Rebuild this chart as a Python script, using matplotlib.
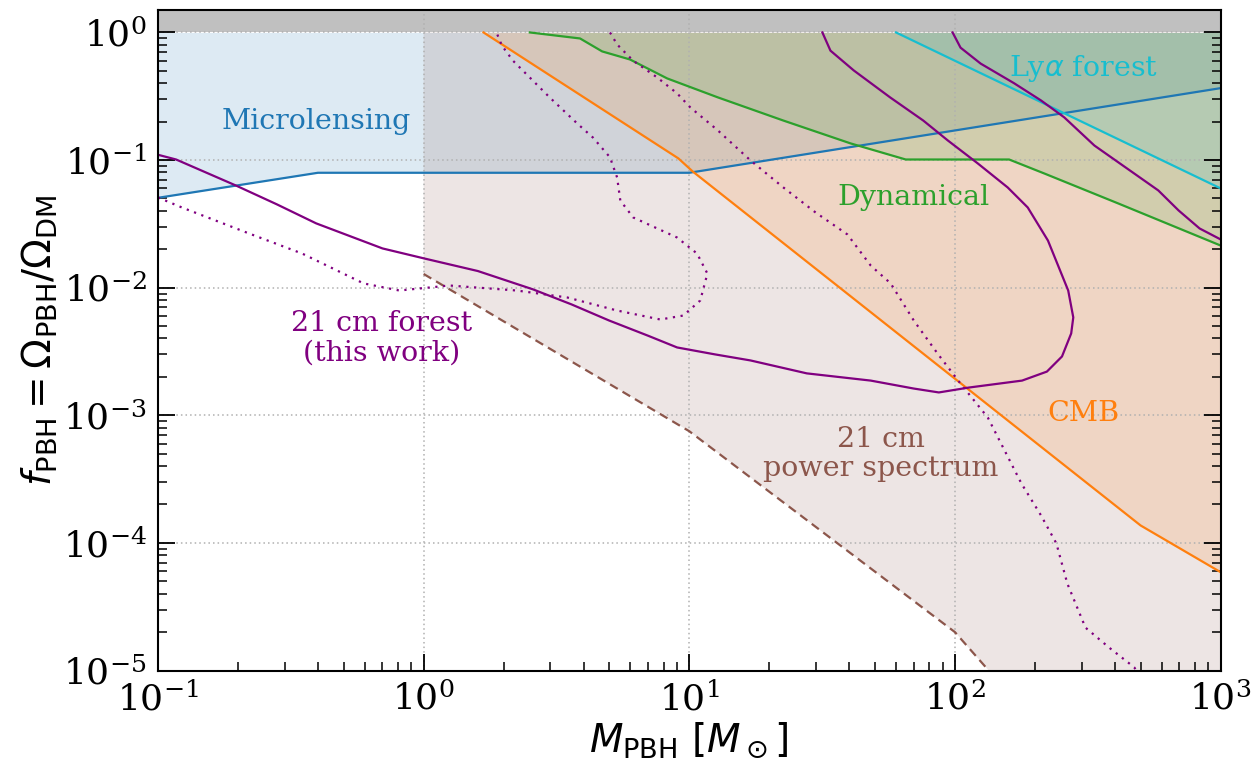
import numpy as np
import matplotlib
matplotlib.use("Agg")
import matplotlib.pyplot as plt

plt.rcParams['font.family'] = 'serif'
plt.rcParams['mathtext.fontset'] = 'dejavusans'

# ---- constraint curves (M_PBH in solar masses, f_PBH) ----
micro_m = [0.1, 0.4, 10.0, 1000.0]
micro_f = [0.0506, 0.0795, 0.0795, 0.366]

cmb_m = [1.68, 9.1, 10.3, 500.0, 1000.0]
cmb_f = [1.0, 0.103, 0.0814, 1.37e-4, 5.9e-5]

dyn_m = [2.51, 3.88, 4.70, 5.98, 8.26, 12.8, 22.6, 40.5, 65.3, 160.0, 217.0, 412.0, 1000.0]
dyn_f = [1.0, 0.897, 0.71, 0.614, 0.436, 0.31, 0.204, 0.135, 0.101, 0.101, 0.0785, 0.0457, 0.0214]

lya_m = [60.0, 1000.0]
lya_f = [1.0, 0.06]

ps21_m = [1.0, 10.0, 100.0, 134.0, 1000.0]
ps21_f = [0.0128, 7.5e-4, 2.0e-5, 1.0e-5, 8.7e-8]

# 21 cm forest, solid contour (closed-loop branch)
forA_m = [0.1, 0.117, 0.197, 0.28, 0.394, 0.70, 1.01, 1.6, 2.58, 3.6, 4.99, 7.0, 9.0, 12.5,
          17.0, 27.7, 48.2, 70.0, 87.0, 113.0, 179.0, 222.0, 253.0, 274.0, 279.0, 267.0,
          224.0, 188.0, 158.0, 122.0, 94.0, 76.0, 57.0, 41.6, 34.0, 31.7]
forA_f = [0.11, 0.101, 0.063, 0.045, 0.0319, 0.0203, 0.0169, 0.0135, 0.0097, 0.0074,
          0.00553, 0.0042, 0.0034, 0.0030, 0.00269, 0.00213, 0.00187, 0.00162, 0.00151,
          0.00165, 0.00187, 0.0022, 0.00289, 0.00438, 0.00585, 0.0095, 0.0234, 0.0425,
          0.061, 0.094, 0.1425, 0.204, 0.31, 0.504, 0.72, 1.0]

# 21 cm forest, solid contour (high-mass branch)
forB_m = [98.0, 105.0, 125.0, 167.0, 211.0, 258.0, 335.0, 473.0, 583.0, 695.0, 834.0, 1000.0]
forB_f = [1.0, 0.76, 0.57, 0.40, 0.293, 0.216, 0.13, 0.0785, 0.0578, 0.0403, 0.0291, 0.0239]

# 21 cm forest, dotted contour (low-mass branch)
forC_m = [0.1, 0.123, 0.22, 0.349, 0.594, 0.81, 1.25, 2.24, 3.47, 5.35, 7.78, 9.5, 11.0,
          11.7, 10.7, 9.0, 6.15, 5.5, 5.35, 5.03, 4.34, 3.78, 2.98, 2.17, 1.97, 1.88]
forC_f = [0.0509, 0.0425, 0.0266, 0.0185, 0.0108, 0.0095, 0.0104, 0.0095, 0.00838, 0.00662,
          0.00563, 0.00605, 0.00794, 0.0129, 0.0185, 0.0247, 0.0355, 0.0482, 0.073, 0.105,
          0.150, 0.194, 0.31, 0.60, 0.79, 1.0]

# 21 cm forest, dotted contour (high-mass branch)
forD_m = [5.03, 5.35, 6.15, 7.57, 9.0, 10.1, 12.8, 17.0, 22.6, 29.9, 39.4, 48.2, 57.3, 70.0,
          86.0, 105.0, 133.0, 178.0, 211.0, 241.0, 265.0, 310.0, 381.0, 473.0, 490.0]
forD_f = [1.0, 0.805, 0.60, 0.444, 0.333, 0.258, 0.171, 0.0993, 0.061, 0.0388, 0.0261,
          0.0149, 0.0108, 0.00553, 0.00305, 0.00177, 0.00096, 0.000292, 0.000164, 9.9e-5,
          4.8e-5, 2.17e-5, 1.51e-5, 1.06e-5, 9.5e-6]

XLIM = (0.1, 1000.0)
YLIM = (1e-5, 1.5)

fig = plt.figure(figsize=(12.57, 7.67), dpi=100)
ax = fig.add_axes([0.1257, 0.1258, 0.8453, 0.8612])
ax.set_xscale('log')
ax.set_yscale('log')
ax.set_xlim(*XLIM)
ax.set_ylim(*YLIM)

alpha = 0.15
ax.fill_between(micro_m, micro_f, 1.0, color='C0', alpha=alpha, lw=0)
ax.fill_between(ps21_m, ps21_f, 1.0, color='C5', alpha=alpha, lw=0)
ax.fill_between(cmb_m, cmb_f, 1.0, color='C1', alpha=alpha, lw=0)
ax.fill_between(dyn_m, dyn_f, 1.0, color='C2', alpha=alpha, lw=0)
ax.fill_between(lya_m, lya_f, 1.0, color='C9', alpha=alpha, lw=0)

lw = 1.6
ax.plot(micro_m, micro_f, color='C0', lw=lw)
ax.plot(ps21_m, ps21_f, color='C5', lw=lw, ls=(0, (4, 2.5)))
ax.plot(cmb_m, cmb_f, color='C1', lw=lw)
ax.plot(dyn_m, dyn_f, color='C2', lw=lw)
ax.plot(lya_m, lya_f, color='C9', lw=lw)

ax.plot(forA_m, forA_f, color='purple', lw=lw)
ax.plot(forB_m, forB_f, color='purple', lw=lw)
ax.plot(forC_m, forC_f, color='purple', lw=lw, ls=(0, (1, 2.5)))
ax.plot(forD_m, forD_f, color='purple', lw=lw, ls=(0, (1, 2.5)))

# f_PBH > 1 is excluded by definition
ax.axhspan(1.0, YLIM[1], color='silver', lw=0, zorder=0.5)

ax.grid(True, which='major', color='#b0b0b0', ls=(0, (1, 2)), lw=1.1)

fs_lab = 20.5
ax.text(0.394, 0.2, 'Microlensing', color='C0', fontsize=fs_lab, ha='center', va='center')
ax.text(70, 0.051, 'Dynamical', color='C2', fontsize=fs_lab, ha='center', va='center')
ax.text(304, 0.52, r'Ly$\alpha$ forest', color='C9', fontsize=fs_lab, ha='center', va='center')
ax.text(0.695, 0.004, '21 cm forest\n(this work)', color='purple', fontsize=fs_lab,
        ha='center', va='center', linespacing=1.1)
ax.text(52.6, 5.0e-4, '21 cm\npower spectrum', color='C5', fontsize=fs_lab,
        ha='center', va='center', linespacing=1.1)
ax.text(304, 1.03e-3, 'CMB', color='C1', fontsize=fs_lab, ha='center', va='center')

ax.tick_params(which='both', direction='in', top=False, right=True, labelsize=26)
ax.tick_params(which='major', length=12.5, width=1.3, pad=8)
ax.tick_params(which='minor', length=6.5, width=1.1)
for s in ax.spines.values():
    s.set_linewidth(1.5)

ax.set_xlabel(r'$M_\mathrm{PBH}\ [M_\odot]$', fontsize=28, labelpad=2)
ax.set_ylabel(r'$f_\mathrm{PBH} = \Omega_\mathrm{PBH}/\Omega_\mathrm{DM}$', fontsize=28, labelpad=2)

fig.savefig('out.png', dpi=100)
